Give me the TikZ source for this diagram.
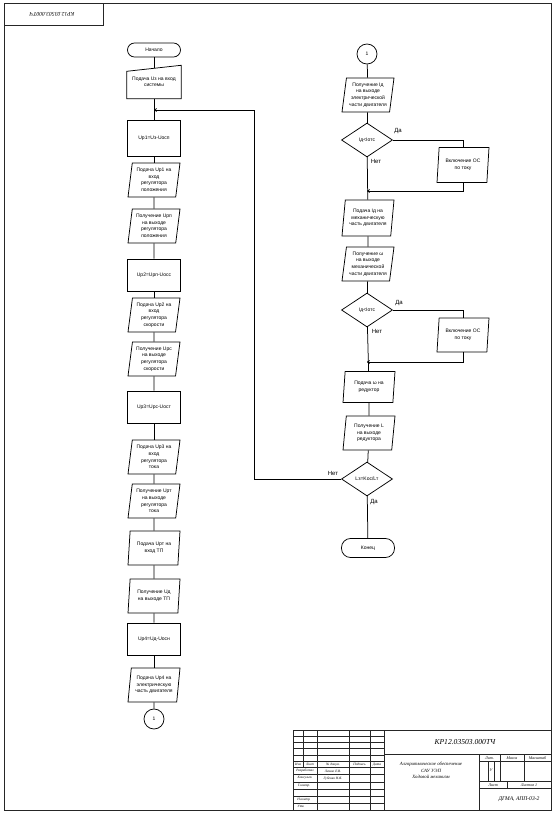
\documentclass[tikz,border=0pt]{standalone}
\usepackage{fontspec}
\setmainfont{Liberation Sans}
\newfontfamily\tfont{Liberation Serif}
\usetikzlibrary{shapes.geometric,arrows.meta}
\begin{document}
\begin{tikzpicture}[x=1pt,y=-1pt,
  base/.style={draw,line width=0.75pt,font=\fontsize{5}{6.6}\selectfont,align=center,inner sep=0.5pt},
  term/.style={base,rectangle,rounded corners=7pt,minimum width=53pt,minimum height=14pt},
  proc/.style={base,rectangle,minimum width=53pt,minimum height=32pt},
  io/.style={base,trapezium,trapezium left angle=80,trapezium right angle=100,trapezium stretches body,minimum width=52pt,minimum height=34pt},
  dec/.style={base,diamond,minimum width=51pt,minimum height=34pt,inner sep=0pt},
  conn/.style={base,circle,minimum size=20pt,inner sep=0pt},
  lbl/.style={font=\fontsize{6}{6}\selectfont,inner sep=0pt},
  line/.style={line width=0.75pt},
  arr/.style={line width=0.75pt,-{To[length=3pt,width=3.5pt]}},
  frm/.style={line width=0.8pt,draw=black!85},
  thin/.style={line width=0.4pt,draw=black!85},
  tb/.style={font=\tfont\itshape\fontsize{3.4}{4}\selectfont,inner sep=0pt},
  tc/.style={font=\tfont\itshape\fontsize{4}{4}\selectfont,inner sep=0pt},
]
\useasboundingbox (0,0) rectangle (554,813);
\fill[white] (0,0) rectangle (554,813);
% ---------- frame ----------
\draw[frm] (4,3) rectangle (551,810);
\draw[frm] (4,3) rectangle (103,25);
\node[rotate=180,font=\tfont\itshape\fontsize{5.6}{5.6}\selectfont,inner sep=0pt] (stamp) at (52,14.5) {КР12.03503.000ТЧ};

% ---------- left column ----------
\node[term] (n1) at (154,50) {Начало};
\node[rectangle,minimum width=54pt,minimum height=33pt,inner sep=0pt,font=\fontsize{5}{6.6}\selectfont,align=center] (n2) at (154,82) {Подача Uз на вход\\системы};
\draw[line] (n2.south west) -- ([yshift=-6pt]n2.north west) -- (n2.north east) -- (n2.south east) -- cycle;
\node[proc,minimum height=36pt] (n3) at (154,138) {Uр1=Uз-Uосп};
\node[io] (n4) at (154,180) {Подача Uр1 на\\вход\\регулятора\\положения};
\node[io] (n5) at (154,226) {Получение Uрп\\на выходе\\регулятора\\положения};
\node[proc] (n6) at (154,275) {Uр2=Uрп-Uосс};
\node[io] (n7) at (154,315) {Подача Uр2 на\\вход\\регулятора\\скорости};
\node[io] (n8) at (154,359) {Получение Uрс\\на выходе\\регулятора\\скорости};
\node[proc] (n9) at (154,407) {Uр3=Uрс-Uост};
\node[io] (n10) at (154,457) {Подача Uр3 на\\вход\\регулятора\\тока};
\node[io] (n11) at (154,501) {Получение Uрт\\на выходе\\регулятора\\тока};
\node[io] (n12) at (154,548) {Подача Uрт на\\вход ТП};
\node[io] (n13) at (154,596) {Получение Uд\\на выходе ТП};
\node[proc] (n14) at (154,639) {Uр4=Uд-Uосн};
\node[io] (n15) at (154,685) {Подача Uр4 на\\электрическую\\часть двигателя};
\node[conn] (n16) at (154,719) {1};

\draw[line] (n1) -- ([yshift=-3pt]n2.north);
\draw[line] (n2) -- (n3);
\foreach \a/\b in {n3/n4,n4/n5,n5/n6,n6/n7,n7/n8,n8/n9,n9/n10,n10/n11,n11/n12,n12/n13,n13/n14,n14/n15,n15/n16}
  \draw[line] (\a) -- (\b);

% ---------- right column ----------
\node[conn] (r1) at (367,54) {1};
\node[io] (r2) at (368,95) {Получение Iд\\на выходе\\электрической\\части двигателя};
\node[dec] (r3) at (367,140) {Iд<Iотс};
\node[io,minimum height=35pt] (r4) at (463,165) {Включение ОС\\по току};
\node[io,minimum height=36pt] (r5) at (368,218) {Подача Iд на\\механическую\\часть двигателя};
\node[io] (r6) at (368,264) {Получение ω\\на выходе\\механической\\части двигателя};
\node[dec] (r7) at (367,310) {Iд<Iотс};
\node[io] (r8) at (463,335) {Включение ОС\\по току};
\node[io,minimum height=31pt] (r9) at (369,387) {Подача ω на\\редуктор};
\node[io] (r10) at (369,433) {Получение L\\на выходе\\редуктора};
\node[dec] (r11) at (367,479) {Lз=Kос/Lт};
\node[term,minimum height=19pt,rounded corners=9pt] (r12) at (368,548) {Конец};

\coordinate (m1) at (154,110);
\coordinate (lp) at (254,110);
\coordinate (m2) at (367,191);
\coordinate (m3) at (367,362);

\draw[line] (r1) -- (r2);
\draw[line] (r2) -- (r3);
\draw[line] (r3.east) -| (r4.north);
\draw[arr] (r4.south) |- (m2);
\draw[line] (r3) -- (r5);
\draw[line] (r5) -- (r6);
\draw[line] (r6) -- (r7);
\draw[line] (r7.east) -| (r8.north);
\draw[arr] (r8.south) |- (m3);
\draw[line] (r7) -- (r9);
\draw[line] (r9) -- (r10);
\draw[line] (r10) -- (r11);
\draw[line] (r11) -- (r12);
\draw[arr] (r11.west) -| (lp) -- (m1);

\node[lbl] (l1) at (398,131) {Да};
\node[lbl] (l2) at (376,161) {Нет};
\node[lbl] (l3) at (399,303) {Да};
\node[lbl] (l4) at (377,331) {Нет};
\node[lbl] (l5) at (333,473) {Нет};
\node[lbl] (l6) at (374,502) {Да};

% ---------- title block ----------
\draw[frm] (293,730) rectangle (551,810);
\foreach \y in {736.2,742.4,748.6,754.8,774.6,781.7,788.8,795.8,802.9}
  \draw[thin] (293,\y) -- (384,\y);
\draw[frm] (293,761) -- (384,761);
\draw[frm] (293,767.5) -- (384,767.5);
\draw[frm] (303,730) -- (303,767.5);
\foreach \x in {317,349,370,384}
  \draw[frm] (\x,730) -- (\x,810);
\draw[frm] (384,754.8) -- (551,754.8);
\draw[frm] (479,754.8) -- (479,810);
\draw[thin] (479,761) -- (551,761);
\draw[frm] (479,781.7) -- (551,781.7);
\draw[frm] (479,788.8) -- (551,788.8);
\draw[thin] (488,761) -- (488,781.7);
\draw[thin] (494,761) -- (494,781.7);
\draw[frm] (500.5,754.8) -- (500.5,781.7);
\draw[frm] (524,754.8) -- (524,781.7);
\draw[frm] (507,781.7) -- (507,788.8);

\node[tb] (t1) at (298,764.3) {Изм};
\node[tb] (t2) at (310,764.3) {Лист};
\node[tb] (t3) at (333,764.3) {№ докум.};
\node[tb] (t4) at (359.5,764.3) {Подпись};
\node[tb] (t5) at (377,764.3) {Дата};
\node[tb] (t6) at (305,771) {Разработал};
\node[tb] (t7) at (333,771) {Лешко Е.В.};
\node[tb] (t8) at (305,778.2) {Консульт.};
\node[tb] (t9) at (333,778.2) {Губенко Н.Я.};
\node[tb] (t10) at (304,785.3) {Т.контр.};
\node[tb] (t11) at (304,799.4) {Н.контр.};
\node[tb] (t12) at (301,806.5) {Утв.};
\node[font=\tfont\itshape\fontsize{7.6}{7.6}\selectfont,inner sep=0pt] (t13) at (465,742) {КР12.03503.000ТЧ};
\node[font=\tfont\itshape\fontsize{4.8}{6.5}\selectfont,align=center,inner sep=0pt] (t14) at (431,770.5) {Алгоритмическое обеспечение\\САУ УЭП\\Ходовой механизм};
\node[tc] (t15) at (489.5,758) {Лит.};
\node[tc] (t16) at (512,758) {Масса};
\node[tc] (t17) at (537.5,758) {Масштаб};
\node[tc] (t18) at (491,770) {У};
\node[tc] (t19) at (493,785.3) {Лист};
\node[tc] (t20) at (529,785.3) {Листов 1};
\node[font=\tfont\itshape\fontsize{5.6}{5.6}\selectfont,inner sep=0pt] (t21) at (519,799.5) {ДГМА, АПП-03-2};
\end{tikzpicture}
\end{document}
